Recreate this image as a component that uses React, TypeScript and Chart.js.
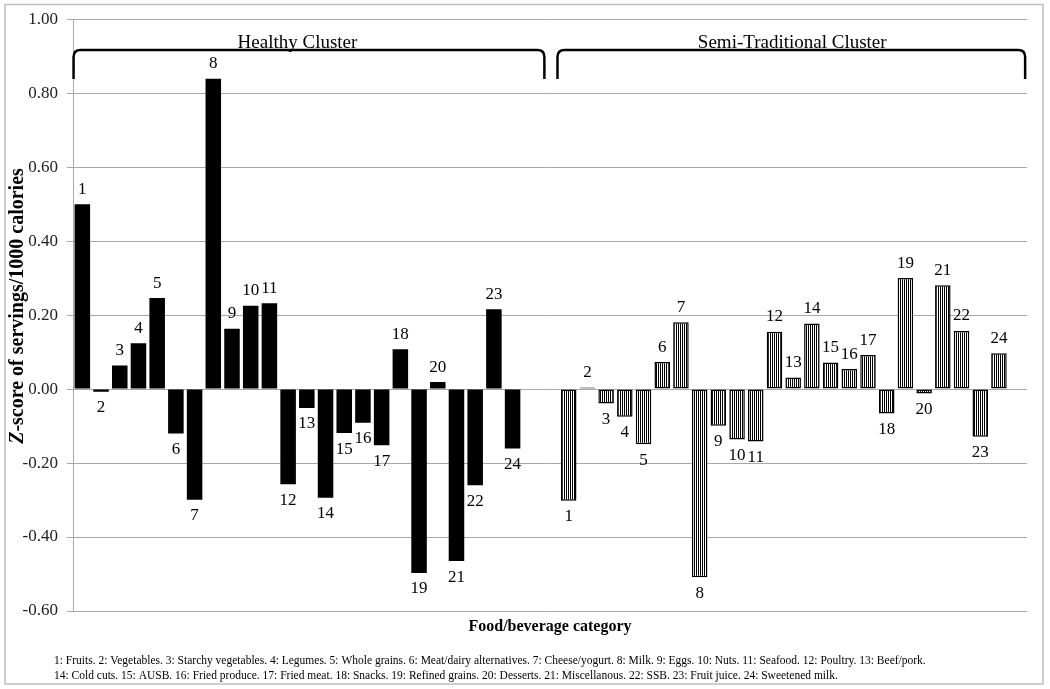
import React, { useEffect, useRef } from "react";
import { Chart, registerables } from "chart.js";

Chart.register(...registerables);

// ---- Data ----
const categoryNumbers = ["1", "2", "3", "4", "5", "6", "7", "8", "9", "10", "11", "12", "13", "14", "15", "16", "17", "18", "19", "20", "21", "22", "23", "24"];

const healthyValues = [0.5, -0.007, 0.064, 0.124, 0.246, -0.12, -0.299, 0.839, 0.163, 0.225, 0.232, -0.257, -0.051, -0.294, -0.119, -0.091, -0.152, 0.108, -0.497, 0.019, -0.465, -0.26, 0.216, -0.161];

const semiValues = [-0.302, 0.004, -0.039, -0.075, -0.149, 0.073, 0.181, -0.509, -0.099, -0.136, -0.142, 0.155, 0.031, 0.177, 0.072, 0.054, 0.092, -0.066, 0.3, -0.012, 0.281, 0.157, -0.129, 0.097];

const clusterNames = ["Healthy Cluster", "Semi-Traditional Cluster"];
const yTicks = [-0.6, -0.4, -0.2, 0.0, 0.2, 0.4, 0.6, 0.8, 1.0];
const yTitle = ["Z", "-score of servings/1000 calories"];
const xTitle = "Food/beverage category";
const footnoteLines = [
  "1: Fruits. 2: Vegetables. 3: Starchy vegetables. 4: Legumes. 5: Whole grains. 6: Meat/dairy alternatives. 7: Cheese/yogurt. 8: Milk. 9: Eggs. 10: Nuts. 11: Seafood. 12: Poultry. 13: Beef/pork.",
  "14: Cold cuts. 15: AUSB. 16: Fried produce. 17: Fried meat. 18: Snacks. 19: Refined grains. 20: Desserts. 21: Miscellanous. 22: SSB. 23: Fruit juice. 24: Sweetened milk.",
];

const GAP = ["gap1", "gap2"];
const TAIL = ["tail"];

const SERIF = '"Liberation Serif", "Times New Roman", serif';

export default function App() {
  const canvasRef = useRef<HTMLCanvasElement | null>(null);

  useEffect(() => {
    const canvas = canvasRef.current;
    if (!canvas) return;
    const ctx = canvas.getContext("2d")!;

    // stripe pattern for the semi-traditional bars
    const pc = document.createElement("canvas");
    pc.width = 2;
    pc.height = 4;
    const pctx = pc.getContext("2d")!;
    pctx.fillStyle = "#ffffff";
    pctx.fillRect(0, 0, 2, 4);
    pctx.fillStyle = "#000000";
    pctx.fillRect(0, 0, 1, 4);
    const stripe = ctx.createPattern(pc, "repeat");

    const labels = [
      ...categoryNumbers.map((n) => "H" + n),
      ...GAP,
      ...categoryNumbers.map((n) => "S" + n),
      ...TAIL,
    ];
    const nulls = (k: number) => new Array(k).fill(null);
    const healthyData = [...healthyValues, ...nulls(GAP.length + semiValues.length + TAIL.length)];
    const semiData = [...nulls(healthyValues.length + GAP.length), ...semiValues, ...nulls(TAIL.length)];
    const healthyLabels = [...categoryNumbers, ...nulls(GAP.length + categoryNumbers.length + TAIL.length)];
    const semiLabels = [...nulls(categoryNumbers.length + GAP.length), ...categoryNumbers, ...nulls(TAIL.length)];
    const numberLabels = [healthyLabels, semiLabels];

    const decor = {
      id: "decor",
      beforeDraw(chart: any) {
        const c = chart.ctx;
        c.save();
        c.fillStyle = "#ffffff";
        c.fillRect(0, 0, chart.width, chart.height);
        c.restore();
      },
      afterDatasetsDraw(chart: any) {
        const c = chart.ctx;
        c.save();
        c.font = "17px " + SERIF;
        c.fillStyle = "#000";
        c.textAlign = "center";
        c.textBaseline = "middle";
        chart.data.datasets.forEach((ds: any, d: number) => {
          const meta = chart.getDatasetMeta(d);
          meta.data.forEach((el: any, i: number) => {
            const v = ds.data[i];
            if (v === null || v === undefined) return;
            const txt = numberLabels[d][i];
            const y = v >= 0 ? el.y - 15 : el.y + 16;
            c.fillText(txt, el.x, y);
          });
        });
        c.restore();
      },
      afterDraw(chart: any) {
        const c = chart.ctx;
        const xs = chart.scales.x;
        const ys = chart.scales.y;
        const area = chart.chartArea;
        c.save();

        // brackets
        const yTop = ys.getPixelForValue(0.917);
        const yBot = ys.getPixelForValue(0.838);
        const r = 7;
        const drawBracket = (x1: number, x2: number) => {
          c.beginPath();
          c.moveTo(x1, yBot);
          c.lineTo(x1, yTop + r);
          c.quadraticCurveTo(x1, yTop, x1 + r, yTop);
          c.lineTo(x2 - r, yTop);
          c.quadraticCurveTo(x2, yTop, x2, yTop + r);
          c.lineTo(x2, yBot);
          c.stroke();
        };
        c.strokeStyle = "#000";
        c.lineWidth = 2.5;
        drawBracket(xs.getPixelForValue(-0.47), xs.getPixelForValue(24.7));
        drawBracket(xs.getPixelForValue(25.4), xs.getPixelForValue(50.4));

        c.font = "19px " + SERIF;
        c.fillStyle = "#000";
        c.textAlign = "center";
        c.textBaseline = "alphabetic";
        c.fillText(clusterNames[0], xs.getPixelForValue(11.5), yTop - 2);
        c.fillText(clusterNames[1], xs.getPixelForValue(37.95), yTop - 2);

        // y title
        c.save();
        c.translate(18, 306);
        c.rotate(-Math.PI / 2);
        c.textBaseline = "middle";
        c.textAlign = "left";
        const fItal = "italic bold 20px " + SERIF;
        const fBold = "bold 20px " + SERIF;
        c.font = fItal;
        const w1 = c.measureText(yTitle[0]).width;
        c.font = fBold;
        const w2 = c.measureText(yTitle[1]).width;
        const start = -(w1 + w2) / 2;
        c.font = fItal;
        c.fillText(yTitle[0], start, 0);
        c.font = fBold;
        c.fillText(yTitle[1], start + w1, 0);
        c.restore();

        // x title
        c.font = "bold 16px " + SERIF;
        c.textAlign = "center";
        c.textBaseline = "middle";
        c.fillText(xTitle, (area.left + area.right) / 2, 627);

        // footnote
        c.font = "11.5px " + SERIF;
        c.textAlign = "left";
        c.fillText(footnoteLines[0], 54, 661);
        c.fillText(footnoteLines[1], 54, 676);

        // outer border
        c.strokeStyle = "#bdbdbd";
        c.lineWidth = 1.5;
        c.strokeRect(5, 4.5, 1038, 679.5);
        c.restore();
      },
    };

    const chart = new Chart(ctx, {
      type: "bar",
      data: {
        labels,
        datasets: [
          {
            label: clusterNames[0],
            data: healthyData,
            backgroundColor: "#000000",
            borderWidth: 0,
          },
          {
            label: clusterNames[1],
            data: semiData,
            backgroundColor: stripe as any,
            borderColor: "#000000",
            borderWidth: 1.5,
            borderSkipped: false,
          },
        ],
      },
      options: {
        responsive: false,
        animation: false,
        devicePixelRatio: 1,
        layout: { padding: { top: 19, right: 23, bottom: 78, left: 0 } },
        datasets: {
          bar: {
            grouped: false,
            categoryPercentage: 1,
            barPercentage: 0.83,
          },
        },
        plugins: {
          legend: { display: false },
          tooltip: { enabled: false },
          title: { display: false },
        },
        scales: {
          x: {
            display: false,
          },
          y: {
            min: yTicks[0],
            max: yTicks[yTicks.length - 1],
            afterBuildTicks: (scale: any) => {
              scale.ticks = yTicks.map((v) => ({ value: v }));
            },
            afterFit: (scale: any) => {
              scale.width = 73;
            },
            ticks: {
              font: { family: SERIF, size: 17 },
              color: "#222",
              padding: 9,
              callback: (v: any) => {
                const n = Number(v);
                return Math.abs(n) < 1e-9 ? "0.00" : n.toFixed(2);
              },
            },
            grid: {
              color: "#a8a8a8",
              lineWidth: 1,
              tickLength: 6,
              drawTicks: true,
            },
            border: { color: "#a8a8a8", width: 1 },
          },
        },
      },
      plugins: [decor],
    });

    return () => {
      chart.destroy();
    };
  }, []);

  return (
    <div style={{ position: "fixed", left: 0, top: 0, width: 1050, height: 689, background: "#fff" }}>
      <canvas ref={canvasRef} width={1050} height={689} style={{ display: "block" }} />
    </div>
  );
}
